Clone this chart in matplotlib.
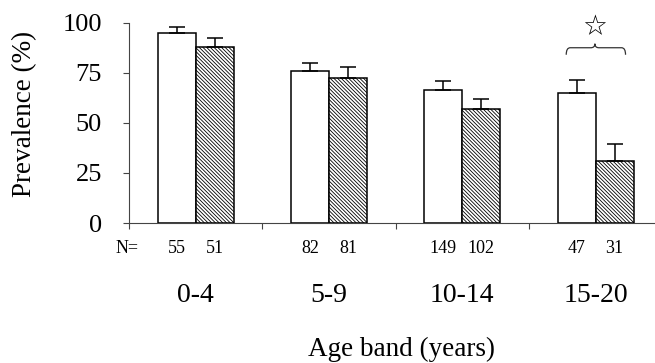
import numpy as np
import matplotlib
matplotlib.use("Agg")
import matplotlib.pyplot as plt
from matplotlib.path import Path
from matplotlib.patches import PathPatch

groups = ["0-4", "5-9", "10-14", "15-20"]
open_vals = [95, 76, 66.5, 65]
open_err = [3, 4, 4.5, 6.5]
hatch_vals = [88, 72.3, 56.8, 30.8]
hatch_err = [4.5, 5.5, 5, 8.7]
n_open = [55, 82, 149, 47]
n_hatch = [51, 81, 102, 31]

plt.rcParams['font.family'] = ['Liberation Serif', 'DejaVu Serif']
plt.rcParams['hatch.linewidth'] = 0.6

fig = plt.figure(figsize=(6.55, 3.63), dpi=100)
ax = fig.add_axes([129/655, 140/363, 526/655, 200.3/363])

x = np.arange(len(groups))
w = 0.285
ax.bar(x - w/2, open_vals, w, color='white', edgecolor='black', linewidth=1.1,
       yerr=[np.zeros(4), open_err], capsize=5.5,
       error_kw=dict(ecolor='black', elinewidth=1.1, capthick=1.1))
ax.bar(x + w/2, hatch_vals, w, color='white', edgecolor='black', linewidth=1.1,
       hatch='\\' * 9,
       yerr=[np.zeros(4), hatch_err], capsize=5.5,
       error_kw=dict(ecolor='black', elinewidth=1.1, capthick=1.1))

ax.set_xlim(-0.5, 3.446)
ax.set_ylim(0, 100)
for s in ['top', 'right']:
    ax.spines[s].set_visible(False)
for s in ['left', 'bottom']:
    ax.spines[s].set_linewidth(0.8)
    ax.spines[s].set_color('#444444')

ax.set_yticks([0, 25, 50, 75, 100])
ax.tick_params(axis='y', direction='out', length=4.5, width=0.8, color='#444444',
               pad=15, labelsize=19)
ax.set_xticks([-0.5, 0.5, 1.5, 2.5])
ax.set_xticklabels([])
ax.tick_params(axis='x', direction='out', length=4.5, width=0.8, color='#444444')

# N row
ax.text(-0.518, -0.125, "N=", transform=ax.get_xaxis_transform(),
        ha='center', va='center', fontsize=13, clip_on=False)
for i in range(len(groups)):
    ax.text(x[i] - w/2, -0.125, str(n_open[i]), transform=ax.get_xaxis_transform(),
            ha='center', va='center', fontsize=13)
    ax.text(x[i] + w/2, -0.125, str(n_hatch[i]), transform=ax.get_xaxis_transform(),
            ha='center', va='center', fontsize=13)
    ax.text(x[i], -0.36, groups[i], transform=ax.get_xaxis_transform(),
            ha='center', va='center', fontsize=20)

ax.text(1.545, -0.63, "Age band (years)", transform=ax.get_xaxis_transform(),
        ha='center', va='center', fontsize=19.5)
ax.text(-104/526, 0.544, "Prevalence (%)", transform=ax.transAxes,
        ha='center', va='center', rotation=90, fontsize=19.5)

# significance brace and star
x0, x1, xm = 2.78, 3.225, 2.995
yb, yl, yt = 84, 87.5, 89.5
verts = [(x0, yb), (x0, yl), (x0 + 0.03, yl),
         (xm - 0.03, yl), (xm, yl), (xm, yt),
         (xm, yl), (xm + 0.03, yl),
         (x1 - 0.03, yl), (x1, yl), (x1, yb)]
codes = [Path.MOVETO, Path.CURVE3, Path.CURVE3,
         Path.LINETO, Path.CURVE3, Path.CURVE3,
         Path.CURVE3, Path.CURVE3,
         Path.LINETO, Path.CURVE3, Path.CURVE3]
ax.add_patch(PathPatch(Path(verts, codes), facecolor='none', edgecolor='#333333',
                       linewidth=0.9, clip_on=False))
ax.text(2.995, 98, "\u2606", ha='center', va='center', fontsize=20,
        family='DejaVu Sans', clip_on=False)

fig.savefig("out.png", dpi=100)
